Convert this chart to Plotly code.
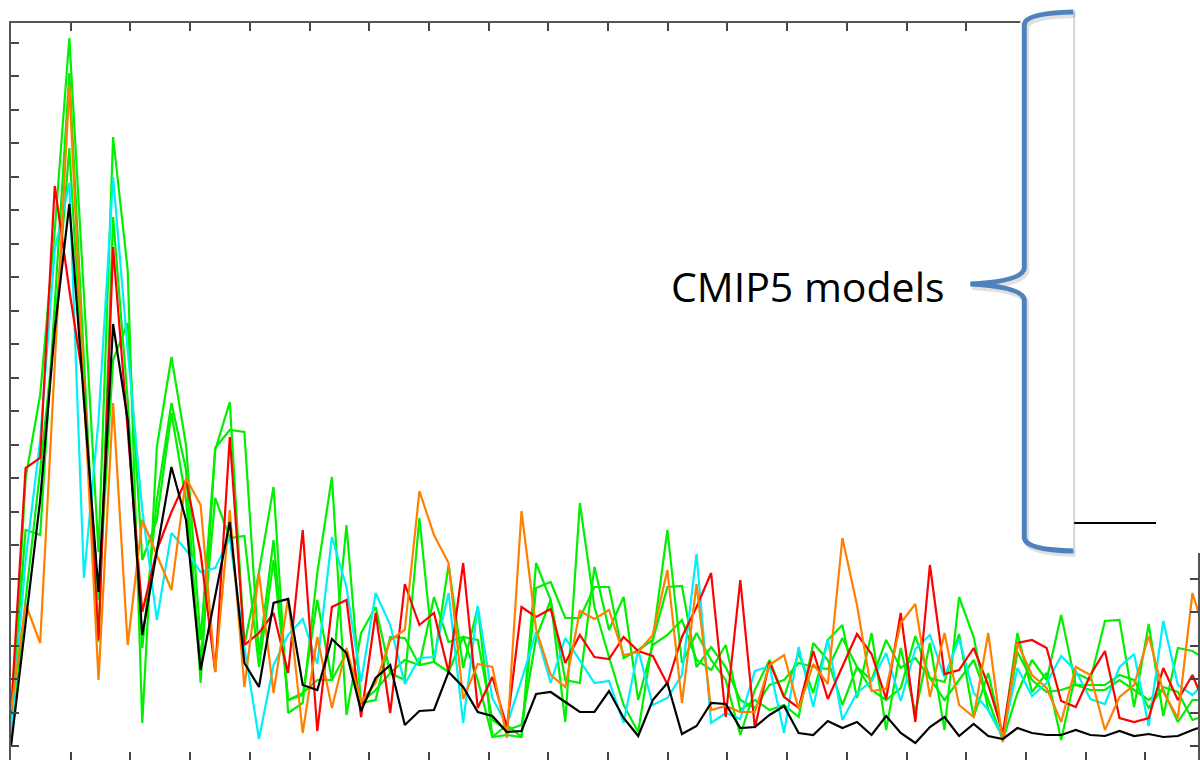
import plotly.graph_objects as go

# Spectral power of each run, one value per frequency bin (arbitrary units)
obs_black = [0.0, 12.3, 24.6, 41.6, 54.2, 34.6, 15.4, 42.2, 32.6, 11.1,
             19.6, 27.9, 22.6, 7.6, 15.0, 22.4, 8.3, 5.9, 14.3, 14.7,
             6.1, 5.6, 10.7, 9.3, 3.5, 6.8, 8.1, 2.1, 3.5, 3.6,
             7.4, 5.9, 3.4, 3.0, 1.4, 1.5, 5.2, 5.4, 4.4, 3.4,
             3.4, 5.5, 2.8, 1.0, 4.6, 6.3, 1.2, 2.0, 4.3, 4.2,
             1.8, 1.9, 3.1, 4.0, 1.3, 1.1, 2.5, 1.8, 2.4, 1.1,
             3.0, 1.3, 0.3, 1.9, 2.9, 1.0, 2.2, 1.0, 0.7, 1.8,
             1.3, 1.1, 1.1, 1.6, 1.1, 1.0, 1.5, 1.0, 1.2, 0.9,
             1.0, 1.6, 2.1]

model_red = [3.3, 27.8, 28.8, 56.0, 45.6, 36.1, 10.6, 49.9, 31.6, 13.4,
             19.6, 23.4, 26.6, 19.3, 7.4, 30.9, 10.1, 11.3, 13.3, 7.3,
             21.6, 1.5, 13.9, 14.6, 2.9, 13.3, 3.3, 16.2, 12.1, 13.3,
             7.4, 18.3, 3.8, 6.9, 1.9, 13.9, 12.9, 13.7, 8.3, 11.1,
             8.9, 8.7, 10.9, 9.5, 9.0, 6.2, 10.9, 13.9, 17.3, 2.9,
             16.6, 1.8, 8.4, 4.9, 3.8, 9.5, 4.7, 7.9, 11.2, 9.2,
             4.7, 13.3, 2.4, 18.1, 7.2, 7.6, 9.8, 6.1, 1.3, 10.3,
             10.6, 9.8, 4.5, 3.9, 7.1, 9.5, 2.8, 2.4, 2.8, 7.8,
             4.6, 7.1, 3.6]

model_orange = [3.6, 14.2, 10.3, 38.1, 66.0, 35.6, 6.6, 34.3, 10.1, 22.6,
                19.1, 15.6, 26.8, 24.1, 7.4, 23.6, 5.9, 17.3, 5.3, 14.8,
                1.3, 10.9, 3.8, 9.8, 4.4, 6.3, 10.6, 11.6, 25.5, 21.1,
                18.3, 4.7, 8.2, 7.9, 0.8, 23.5, 11.7, 7.1, 5.9, 13.5,
                12.7, 13.6, 9.1, 9.4, 11.1, 17.6, 4.3, 16.2, 3.6, 4.0,
                3.4, 3.4, 8.1, 9.1, 3.7, 8.2, 6.2, 20.8, 14.1, 5.5,
                5.7, 12.3, 14.2, 4.9, 11.3, 4.1, 2.9, 11.3, 0.4, 10.3,
                7.1, 5.8, 2.4, 7.9, 7.1, 1.6, 4.9, 6.1, 11.0, 5.4,
                2.8, 15.3, 10.6]

model_cyan = [1.1, 18.6, 30.6, 49.6, 56.3, 16.8, 32.6, 56.9, 39.6, 23.6,
              12.6, 21.3, 19.6, 17.4, 17.8, 20.8, 9.9, 0.7, 8.1, 11.1,
              12.7, 8.2, 20.9, 15.9, 6.4, 15.3, 12.1, 6.2, 8.8, 8.9,
              15.3, 2.3, 14.0, 4.8, 2.1, 6.6, 11.4, 6.3, 10.8, 8.5,
              6.3, 6.5, 2.3, 9.6, 4.1, 4.8, 7.1, 19.2, 2.3, 3.3,
              2.7, 7.5, 8.0, 1.3, 9.9, 3.9, 10.7, 2.6, 5.3, 6.5,
              9.3, 4.5, 9.7, 11.1, 6.9, 10.7, 5.3, 3.6, 0.9, 7.8,
              5.0, 6.3, 9.0, 7.5, 4.7, 4.2, 7.9, 9.2, 2.0, 12.5,
              6.1, 5.1, 6.6]

model_green_a = [0.6, 26.8, 35.1, 51.6, 70.8, 44.6, 19.4, 60.9, 47.6, 2.3,
                 29.9, 38.9, 30.1, 10.6, 29.6, 34.4, 10.1, 17.4, 25.9, 3.3,
                 4.3, 17.3, 26.9, 3.1, 11.3, 13.9, 7.3, 6.6, 22.8, 8.4,
                 18.1, 7.8, 13.9, 0.9, 2.1, 0.9, 18.3, 14.6, 2.4, 24.3,
                 13.9, 8.9, 4.1, 1.4, 10.6, 21.6, 8.3, 11.3, 8.6, 6.6,
                 1.1, 5.6, 8.6, 4.9, 9.3, 5.3, 10.6, 12.1, 4.8, 11.3,
                 1.6, 9.8, 3.3, 10.3, 1.6, 14.9, 10.9, 3.6, 0.9, 11.3,
                 5.4, 7.3, 0.6, 7.3, 6.6, 12.5, 12.6, 3.9, 12.2, 3.0,
                 9.8, 9.5, 8.6]

model_green_b = [2.6, 21.6, 21.1, 44.6, 67.3, 38.6, 10.4, 52.9, 34.6, 9.8,
                 24.6, 34.3, 27.6, 6.3, 29.8, 31.6, 31.4, 9.1, 20.6, 4.6,
                 5.3, 6.6, 6.6, 22.1, 4.3, 4.6, 10.9, 10.8, 8.1, 14.9,
                 10.4, 10.9, 6.6, 0.9, 1.1, 0.9, 15.8, 16.4, 12.8, 12.8,
                 15.9, 15.9, 8.8, 9.6, 10.6, 15.9, 16.0, 7.9, 9.9, 7.9,
                 4.6, 3.8, 6.1, 6.6, 8.3, 7.9, 7.7, 10.8, 7.9, 6.6,
                 10.6, 7.8, 8.8, 6.8, 6.4, 11.2, 2.9, 7.3, 0.9, 9.4,
                 6.6, 5.4, 5.6, 6.1, 6.1, 6.1, 7.1, 6.6, 3.8, 5.9,
                 5.4, 2.6, 3.1]

model_green_c = [0.1, 14.6, 27.6, 41.6, 59.8, 34.6, 14.6, 38.6, 42.3, 18.6,
                 22.6, 33.3, 24.6, 8.6, 24.8, 20.8, 21.0, 7.9, 18.6, 4.6,
                 5.1, 14.6, 6.6, 9.3, 4.3, 5.6, 7.3, 8.6, 8.1, 8.4,
                 7.4, 10.9, 10.6, 2.6, 1.6, 2.1, 10.8, 14.6, 6.6, 6.3,
                 17.9, 11.6, 14.9, 4.6, 10.1, 11.1, 12.6, 8.6, 7.6, 10.1,
                 3.6, 4.6, 3.6, 4.1, 2.9, 10.3, 8.6, 4.1, 7.9, 5.6,
                 4.6, 5.8, 11.0, 6.8, 4.6, 6.6, 8.6, 4.6, 0.6, 5.3,
                 8.6, 6.6, 13.1, 6.1, 5.6, 5.6, 6.6, 5.6, 4.6, 5.6,
                 2.4, 4.6, 4.6]

freq_bin = list(range(len(obs_black)))

label_text = "CMIP5 models"

W, H = 1200, 760
ML, MT = 11, 23
PW, PH = W - ML, H - MT

def paper_x(p):
    return (p - ML) / PW

def paper_y(p):
    return (H - p) / PH

fig = go.Figure()

traces = [
    (model_green_c, "#00ee00"),
    (model_green_b, "#00ee00"),
    (model_green_a, "#00f000"),
    (model_cyan, "#00f0f8"),
    (model_red, "#ff0000"),
    (model_orange, "#ff8000"),
    (obs_black, "#000000"),
]
for vals, col in traces:
    fig.add_trace(go.Scatter(x=freq_bin, y=vals, mode="lines",
                             line=dict(color=col, width=2.2),
                             showlegend=False, hoverinfo="skip"))

axis_style = dict(showline=True, linecolor="#555555", linewidth=1.5,
                  mirror="ticks", ticks="inside", ticklen=8, tickwidth=1.5,
                  tickcolor="#444444", showticklabels=False, showgrid=False,
                  zeroline=False)

fig.update_xaxes(range=[0, 81.38], tick0=0, dtick=4.093, **axis_style)
fig.update_yaxes(range=[-1.4, 72.3], tick0=0, dtick=3.35, **axis_style)

def path_from(points):
    out = []
    for cmd, pts in points:
        coords = " ".join(f"{paper_x(a):.5f},{paper_y(b):.5f}" for a, b in pts)
        out.append(f"{cmd} {coords}")
    return " ".join(out)

brace = [
    ("M", [(1075, 12)]),
    ("Q", [(1028, 13), (1026, 24)]),
    ("L", [(1026, 268)]),
    ("Q", [(1025, 281), (972, 284)]),
    ("Q", [(1025, 287), (1026, 300)]),
    ("L", [(1026, 538)]),
    ("Q", [(1028, 550), (1075, 551)]),
]
brace_shadow = [(c, [(a + 2, b + 3) for a, b in pts]) for c, pts in brace]

shapes = [
    # white callout panel
    dict(type="rect", xref="paper", yref="paper",
         x0=paper_x(1022), x1=paper_x(1205), y0=paper_y(553), y1=paper_y(-5),
         fillcolor="white", line=dict(width=0), layer="above"),
    dict(type="line", xref="paper", yref="paper",
         x0=paper_x(1076), x1=paper_x(1076), y0=paper_y(10), y1=paper_y(553),
         line=dict(color="#d6d6d6", width=2), layer="above"),
    # legend sample for the observed series
    dict(type="line", xref="paper", yref="paper",
         x0=paper_x(1076), x1=paper_x(1158), y0=paper_y(523), y1=paper_y(523),
         line=dict(color="black", width=2), layer="above"),
    # curly brace with soft shadow
    dict(type="path", xref="paper", yref="paper", path=path_from(brace_shadow),
         line=dict(color="rgba(0,0,0,0.12)", width=6), layer="above"),
    dict(type="path", xref="paper", yref="paper", path=path_from(brace),
         line=dict(color="#4f81bd", width=5), layer="above"),
]

fig.update_layout(
    width=W, height=H,
    margin=dict(l=ML, r=0, t=MT, b=0),
    paper_bgcolor="white", plot_bgcolor="white",
    shapes=shapes,
    annotations=[dict(text=label_text, xref="paper", yref="paper",
                      x=paper_x(949), y=paper_y(286), xanchor="right",
                      yanchor="middle", showarrow=False,
                      font=dict(family="Open Sans", size=41, color="black"))],
)

fig.write_html("out.html")
